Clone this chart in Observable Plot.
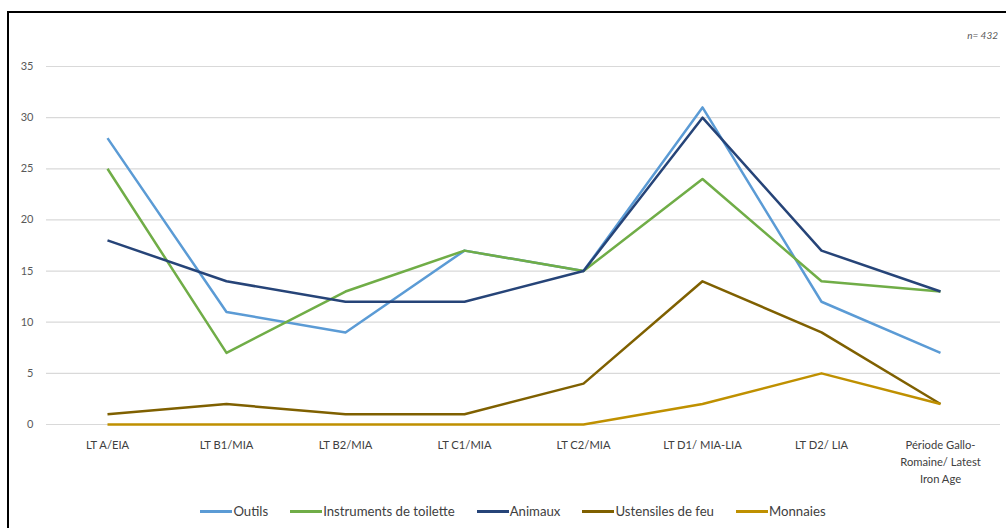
<!DOCTYPE html>
<html>
<head>
<meta charset="utf-8">
<script src="https://cdn.jsdelivr.net/npm/d3@7"></script>
<script src="https://cdn.jsdelivr.net/npm/@observablehq/plot@0.6"></script>
<style>
  html, body { margin: 0; padding: 0; background: #fff; overflow: hidden; }
  body { width: 1006px; height: 528px; position: relative; font-family: Lato, "Open Sans", sans-serif; }
  #frame { position: absolute; left: 7px; top: 11px; width: 1010px; height: 530px; border: 2px solid #000; box-sizing: border-box; pointer-events: none; }
  #chart { position: absolute; left: 0; top: 0; }
  #note { position: absolute; right: 8px; top: 29px; font-size: 10px; font-style: italic; color: #595959; }
  #legend { position: absolute; left: 0; width: 1006px; top: 503px; display: flex; justify-content: center; font-size: 13.2px; color: #404040; padding-left: 42px; box-sizing: border-box; }
  .item { display: flex; align-items: center; margin: 0 22px 0 0; }
  .sw { display: inline-block; width: 32px; height: 3px; margin-right: 1px; }
</style>
</head>
<body>
<div id="chart"></div>
<div id="note">n= 432</div>
<div id="legend"></div>
<div id="frame"></div>
<script>
const categories = ["LT A/EIA", "LT B1/MIA", "LT B2/MIA", "LT C1/MIA", "LT C2/MIA", "LT D1/ MIA-LIA", "LT D2/ LIA", "Période Gallo-Romaine/ Latest Iron Age"];
const categoryLabels = ["LT A/EIA", "LT B1/MIA", "LT B2/MIA", "LT C1/MIA", "LT C2/MIA", "LT D1/ MIA-LIA", "LT D2/ LIA", "Période Gallo-\nRomaine/ Latest\nIron Age"];
const seriesNames = ["Outils", "Instruments de toilette", "Animaux", "Ustensiles de feu", "Monnaies"];
const seriesColors = ["#5B9BD5", "#70AD47", "#264478", "#7F6000", "#BF9000"];
const outils = [28, 11, 9, 17, 15, 31, 12, 7];
const instruments = [25, 7, 13, 17, 15, 24, 14, 13];
const animaux = [18, 14, 12, 12, 15, 30, 17, 13];
const ustensiles = [1, 2, 1, 1, 4, 14, 9, 2];
const monnaies = [0, 0, 0, 0, 0, 2, 5, 2];
const yTicks = [0, 5, 10, 15, 20, 25, 30, 35];

const seriesValues = [outils, instruments, animaux, ustensiles, monnaies];
const data = [];
seriesNames.forEach((s, i) => {
  categories.forEach((c, j) => data.push({series: s, category: c, value: seriesValues[i][j]}));
});
const labelOf = new Map(categories.map((c, i) => [c, categoryLabels[i]]));

const chart = Plot.plot({
  width: 1006,
  height: 528,
  marginTop: 66,
  marginBottom: 104,
  marginLeft: 46,
  marginRight: 6,
  style: {fontFamily: "Lato, 'Open Sans', sans-serif", fontSize: "11px", color: "#404040", background: "transparent"},
  x: {type: "point", domain: categories, padding: 0.5},
  y: {domain: [0, 35]},
  color: {domain: seriesNames, range: seriesColors},
  marks: [
    Plot.gridY(yTicks, {stroke: "#d9d9d9", strokeOpacity: 1, strokeWidth: 1.2}),
    Plot.axisY(yTicks, {tickSize: 0, tickPadding: 13, fill: "#595959", fontSize: 11, label: null}),
    Plot.axisX({tickSize: 0, tickPadding: 13, fontSize: 11.2, fill: "#404040", lineHeight: 1.5, label: null, tickFormat: d => labelOf.get(d)}),
    ...seriesNames.map(s => Plot.line(data.filter(d => d.series === s), {
      x: "category", y: "value", stroke: "series", strokeWidth: 2.5, strokeLinejoin: "round", strokeLinecap: "butt"
    }))
  ]
});
document.getElementById("chart").appendChild(chart);

const legend = document.getElementById("legend");
seriesNames.forEach((s, i) => {
  const item = document.createElement("div");
  item.className = "item";
  const sw = document.createElement("span");
  sw.className = "sw";
  sw.style.background = seriesColors[i];
  const t = document.createElement("span");
  t.textContent = s;
  item.appendChild(sw);
  item.appendChild(t);
  legend.appendChild(item);
});
</script>
</body>
</html>
